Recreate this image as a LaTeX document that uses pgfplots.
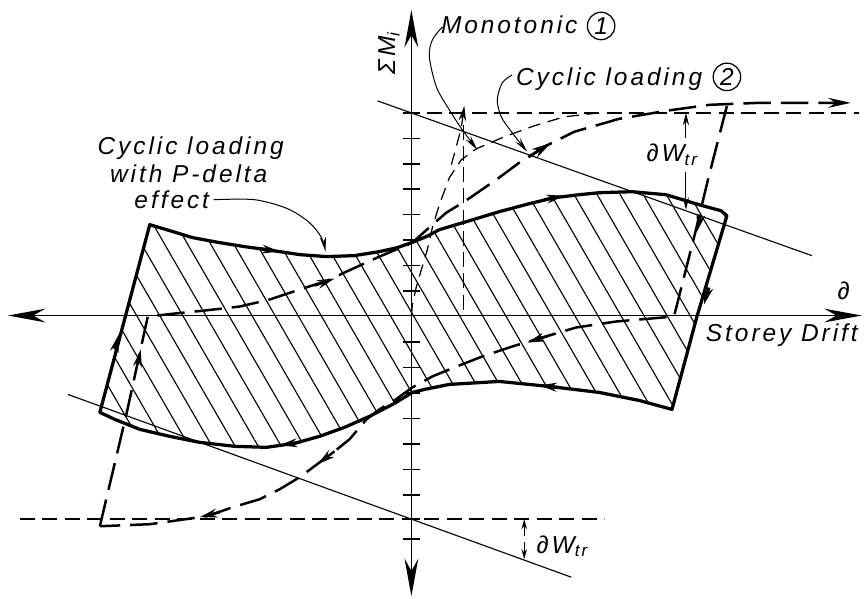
\documentclass[border=0pt]{standalone}
\usepackage{fontspec}
\setmainfont{Liberation Sans}
\newfontfamily\lab[LetterSpace=12]{Liberation Sans}
\usepackage{pgfplots}
\pgfplotsset{compat=1.18}
\usetikzlibrary{arrows.meta,patterns.meta}
\newcommand\tx{\lab\itshape\fontsize{9.8}{11.5}\selectfont}

\begin{document}
\begin{tikzpicture}
\begin{axis}[
    scale only axis, width=346.4pt, height=239.6pt,
    xmin=0, xmax=866, ymin=0, ymax=599, y dir=reverse,
    hide axis, clip=false, no marks,
]
\path (rel axis cs:0,0) rectangle (rel axis cs:1,1);

% hatched hysteresis loop with P-delta
\addplot[draw=none, pattern={Lines[angle=-60,distance=8pt,line width=0.45pt]}] coordinates {
    (150,225)(170,231)(193,238)(220,243)(245,247)(267,250)(300,255)(327,257)(355,256)
    (380,252)(398,248)(412,243)(427,237)(440,230)(467,222)(500,212)(530,204)(555,198)
    (580,195)(600,193)(633,192)(667,195)(700,205)(722,211)(728,216)(698,317)(673,410)
    (640,401)(600,393)(550,387)(500,382)(450,385)(425,390)(413,393)(395,404)(370,417)
    (345,428)(320,437)(295,444)(267,448)(235,447)(200,443)(170,437)(140,430)(115,420)
    (100,413)(150,225)
};
\addplot[black, line width=1.3pt, line join=round] coordinates {
    (150,225)(170,231)(193,238)(220,243)(245,247)(267,250)(300,255)(327,257)(355,256)
    (380,252)(398,248)(412,243)(427,237)(440,230)(467,222)(500,212)(530,204)(555,198)
    (580,195)(600,193)(633,192)(667,195)(700,205)(722,211)(728,216)(698,317)(673,410)
    (640,401)(600,393)(550,387)(500,382)(450,385)(425,390)(413,393)(395,404)(370,417)
    (345,428)(320,437)(295,444)(267,448)(235,447)(200,443)(170,437)(140,430)(115,420)
    (100,413)(150,225)(170,231)
};
% loop direction arrows
\addplot[black, line width=1.2pt, -{Stealth[length=7pt,width=3.5pt]}] coordinates {(115,350)(119,335)};
\addplot[black, line width=1.2pt, -{Stealth[length=7pt,width=3.5pt]}] coordinates {(260,249)(280,252)};
\addplot[black, line width=1.2pt, -{Stealth[length=7pt,width=3.5pt]}] coordinates {(545,200)(565,196)};
\addplot[black, line width=1.2pt, -{Stealth[length=7pt,width=3.5pt]}] coordinates {(710,288)(705,305)};
\addplot[black, line width=1.2pt, -{Stealth[length=7pt,width=3.5pt]}] coordinates {(560,388)(540,386)};
\addplot[black, line width=1.2pt, -{Stealth[length=7pt,width=3.5pt]}] coordinates {(300,443)(280,446)};

% axes
\addplot[black, line width=0.6pt, {Stealth[length=15pt,width=5.5pt]}-{Stealth[length=15pt,width=5.5pt]}] coordinates {(8,316)(863,316)};
\addplot[black, line width=0.6pt, {Stealth[length=15pt,width=5.5pt]}-{Stealth[length=15pt,width=5.5pt]}] coordinates {(412,10)(412,597)};
% ticks on the moment axis
\pgfplotsinvokeforeach{113,138.5,164,189.5,215,240.5,266,291.5,342.5,368,393.5,419,444.5,470,495.5,520,540}{
    \addplot[black, line width=0.6pt] coordinates {(404,#1)(421,#1)};
}

% strength levels and P-delta lines
\addplot[black, line width=0.6pt, dash pattern=on 6pt off 3pt] coordinates {(405,113)(860,113)};
\addplot[black, line width=0.6pt, dash pattern=on 6pt off 3pt] coordinates {(20,520)(605,520)};
\addplot[black, line width=0.45pt] coordinates {(378,101)(813,256)};
\addplot[black, line width=0.45pt] coordinates {(68,395)(572,578)};

% cyclic loading (2)
\addplot[black, line width=1pt, dash pattern=on 11pt off 4pt, -{Stealth[length=9pt,width=4pt]}] coordinates {
    (100,527)(127,413)(148,317)(175,314)(205,311)(240,307)(270,300)(300,290)(328,281)
    (347,272)(380,257)(413,243)(433,225)(447,213)(465,202)(497,180)(520,163)(545,147)
    (575,132)(620,119)(667,111)(710,105)(760,103)(852,103)
};
\addplot[black, line width=1pt, dash pattern=on 11pt off 4pt] coordinates {
    (728,106)(709,180)(697,230)(675,317)(617,322)(577,328)(550,336)(513,347)(483,357)
    (450,370)(433,377)(413,388)(395,401)(380,410)(367,420)(350,440)(335,452)(300,478)
    (280,490)(260,500)(233,508)(207,517)(150,525)(100,527)
};
\addplot[black, line width=1pt, -{Stealth[length=7pt,width=3.5pt]}] coordinates {(138,365)(141,350)};
\addplot[black, line width=1pt, -{Stealth[length=7pt,width=3.5pt]}] coordinates {(315,286)(335,279)};
\addplot[black, line width=1pt, -{Stealth[length=8pt,width=4pt]}] coordinates {(530,157)(552,143)};
\addplot[black, line width=1pt, -{Stealth[length=7pt,width=3.5pt]}] coordinates {(702,215)(698,232)};
\addplot[black, line width=1pt, -{Stealth[length=7pt,width=3.5pt]}] coordinates {(550,336)(528,343)};
\addplot[black, line width=1pt, -{Stealth[length=7pt,width=3.5pt]}] coordinates {(335,452)(318,465)};
\addplot[black, line width=1pt, -{Stealth[length=7pt,width=3.5pt]}] coordinates {(220,513)(200,518)};

% monotonic (1)
\addplot[black, line width=0.5pt, dash pattern=on 5pt off 3pt] coordinates {
    (412,316)(413,305)(417,287)(422,270)(428,250)(433,228)(440,205)(450,178)(462,160)
    (477,149)(505,137)(535,126)(565,117)(600,113)
};
\addplot[black, line width=0.5pt, dash pattern=on 5pt off 3pt, -{Stealth[length=6pt,width=3pt]}] coordinates {
    (452,165)(458,143)(462,128)(465,106)
};
\addplot[black, line width=0.5pt, dash pattern=on 6pt off 2.5pt] coordinates {(464,125)(464,316)};

% dimension arrows dW_tr
\addplot[black, line width=0.4pt, -{Stealth[length=5pt,width=2.5pt]}] coordinates {(687,138)(687,113)};
\addplot[black, line width=0.4pt, -{Stealth[length=5pt,width=2.5pt]}] coordinates {(687,172)(687,210)};
\addplot[black, line width=0.4pt, -{Stealth[length=4pt,width=2.2pt]}] coordinates {(525,537)(525,520)};
\addplot[black, line width=0.4pt, -{Stealth[length=4pt,width=2.2pt]}] coordinates {(525,543)(525,560)};

% leaders
\addplot[black, line width=0.4pt, smooth, -{Stealth[length=6pt,width=2.5pt]}] coordinates {
    (443,27)(433,40)(430,57)(437,87)(450,110)(463,130)(478,150)};
\addplot[black, line width=0.4pt, smooth, -{Stealth[length=6pt,width=2.5pt]}] coordinates {
    (513,75)(503,83)(498,100)(502,117)(513,133)(528,152)};
\addplot[black, line width=0.4pt, smooth, -{Stealth[length=6pt,width=2.5pt]}] coordinates {
    (214,200)(255,200)(288,209)(310,223)(322,238)(326,252)};

% labels
\node[rotate=90] at (axis cs:390,53) {\tx ΣM\textsubscript{i}};
\node at (axis cs:510,25) {\tx Monotonic};
\node[draw, circle, minimum size=11pt, inner sep=0pt, line width=0.5pt] at (axis cs:602,26) {\tx 1};
\node at (axis cs:610,79) {\tx Cyclic loading};
\node[draw, circle, minimum size=11pt, inner sep=0pt, line width=0.5pt] at (axis cs:728,77) {\tx 2};
\node at (axis cs:191,148) {\tx Cyclic loading};
\node at (axis cs:189,174) {\tx with P-delta};
\node at (axis cs:172,200) {\tx effect};
\node at (axis cs:783,336) {\tx Storey Drift};
\node at (axis cs:845,291) {\tx ∂};
\node[anchor=base west, inner sep=0pt] at (axis cs:647,162) {\tx ∂W\textsubscript{tr}};
\node[anchor=base west, inner sep=0pt] at (axis cs:537,554) {\tx ∂W\textsubscript{tr}};
\end{axis}
\end{tikzpicture}
\end{document}
